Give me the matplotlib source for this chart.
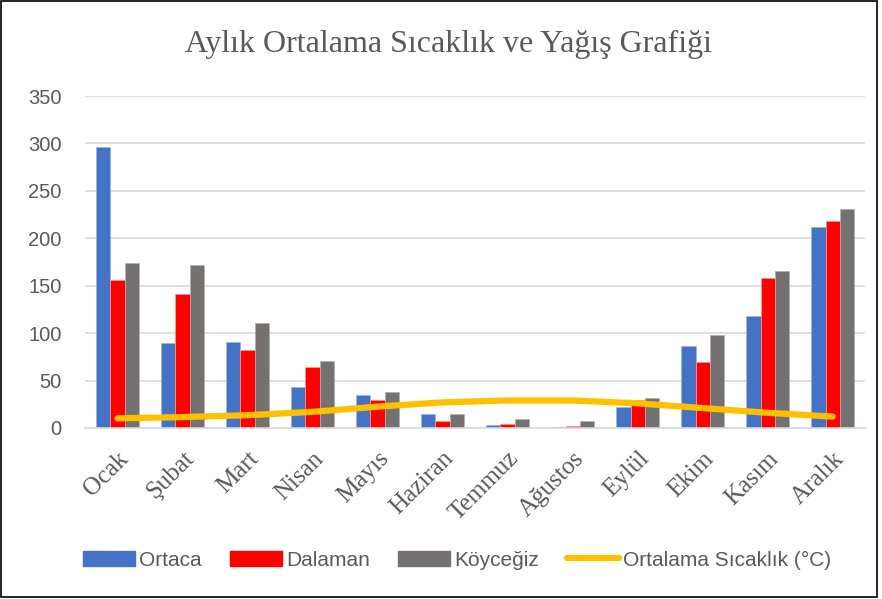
import matplotlib.pyplot as plt
import matplotlib.patches as mpatches
from matplotlib.lines import Line2D
import numpy as np

# Aylar
months = ['Ocak', 'Şubat', 'Mart', 'Nisan', 'Mayıs', 'Haziran',
          'Temmuz', 'Ağustos', 'Eylül', 'Ekim', 'Kasım', 'Aralık']

# Aylık yağış (mm)
ortaca = [296, 90, 91, 43, 35, 15, 3, 1, 22, 86, 118, 212]
dalaman = [156, 141, 82, 64, 30, 7, 4, 2, 29, 70, 158, 218]
koycegiz = [174, 172, 111, 71, 38, 15, 10, 7, 32, 98, 166, 231]

# Ortalama sıcaklık (°C)
sicaklik = [10.2, 11.5, 13.5, 17, 22.5, 27, 29, 29, 26, 21, 16, 12]

yticks = [0, 50, 100, 150, 200, 250, 300, 350]

BLUE = '#4472C4'
RED = '#FF0000'
GRAY = '#767171'
GOLD = '#FFC000'
TXT = '#595959'

fig = plt.figure(figsize=(8.82, 5.99), dpi=100)
ax = fig.add_axes([0.0964, 0.2855, 0.8846, 0.5542])

x = np.arange(len(months))
w = 0.22
ax.bar(x - w, ortaca, width=w, color=BLUE, edgecolor='#9db3e0', linewidth=0.5, zorder=2)
ax.bar(x, dalaman, width=w, color=RED, edgecolor='#ff9a9a', linewidth=0.5, zorder=2)
ax.bar(x + w, koycegiz, width=w, color=GRAY, edgecolor='#b0adad', linewidth=0.5, zorder=2)
ax.plot(x, sicaklik, color=GOLD, linewidth=4.5, solid_capstyle='round', zorder=3)

ax.set_xlim(-0.5, 11.5)
ax.set_ylim(0, 350)
ax.set_yticks(yticks)
ax.set_yticklabels([str(v) for v in yticks], fontsize=14.5, color=TXT,
                   family='Liberation Sans')
ax.yaxis.grid(True, color='#d9d9d9', linewidth=1.2, zorder=0)
ax.set_axisbelow(True)
ax.tick_params(axis='both', length=0)
ax.tick_params(axis='y', pad=17)
for s in ['top', 'right', 'left']:
    ax.spines[s].set_visible(False)
ax.spines['bottom'].set_color('#d9d9d9')
ax.spines['bottom'].set_linewidth(1.2)

ax.set_xticks(x)
ax.set_xticklabels(months, rotation=45, ha='right', rotation_mode='anchor',
                   fontsize=18, color=TXT, family='Liberation Serif')
ax.tick_params(axis='x', pad=14)

fig.text(0.509, 0.925, 'Aylık Ortalama Sıcaklık ve Yağış Grafiği', ha='center',
         va='center', fontsize=23, color=TXT, family='Liberation Serif')

handles = [mpatches.Patch(color=BLUE), mpatches.Patch(color=RED),
           mpatches.Patch(color=GRAY),
           Line2D([], [], color=GOLD, linewidth=4.5, solid_capstyle='round')]
leg = fig.legend(handles, ['Ortaca', 'Dalaman', 'Köyceğiz', 'Ortalama Sıcaklık (°C)'],
                 loc='center', bbox_to_anchor=(0.518, 0.065), ncol=4, frameon=False,
                 handlelength=2.5, handleheight=0.7, handletextpad=0.2,
                 columnspacing=1.35, prop={'family': 'Liberation Sans', 'size': 15})
for t in leg.get_texts():
    t.set_color(TXT)

# Grafik çerçevesi
fig.patches.append(mpatches.Rectangle((0.001, 0.003), 0.993, 0.995, transform=fig.transFigure,
                                      fill=False, edgecolor='black', linewidth=1.2))

fig.savefig('out.png', dpi=100)
